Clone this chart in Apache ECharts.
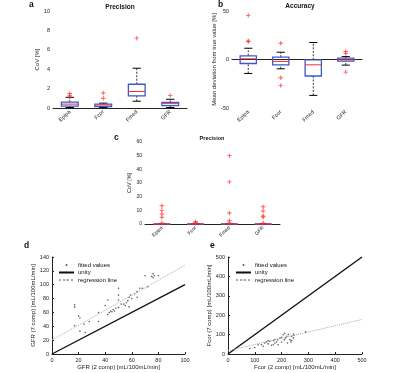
<!DOCTYPE html>
<html>
<head>
<meta charset="utf-8">
<script src="https://cdn.jsdelivr.net/npm/echarts@6/dist/echarts.min.js"></script>
<style>
  html, body { margin: 0; padding: 0; background: #fff; }
  #chart { width: 400px; height: 373px; }
</style>
</head>
<body>
<div id="chart"></div>
<script>
const categories = ['Epipa', 'Fcor', 'Fmed', 'GFR'];

// box stats: [low whisker, q1, median, q3, high whisker]
const precisionBox = [
  [0.05, 0.2, 0.4, 0.6, 1.1],
  [0.05, 0.15, 0.3, 0.4, 0.5],
  [0.7, 1.25, 1.7, 2.45, 4.1],
  [0.05, 0.25, 0.45, 0.58, 0.9]
];
const precisionOutliers = [[0, 1.5], [0, 1.3], [0, 1.15], [1, 1.55], [1, 1.0], [2, 7.2], [3, 1.3]];

const accuracyBox = [
  [-14.4, -4.1, 0.7, 3.8, 11.6],
  [-9.6, -5.5, -2, 2.4, 7.5],
  [-37, -17, -5.5, -0.3, 17.5],
  [-5.8, -1.7, -0.3, 1.4, 3]
];
const accuracyOutliers = [[0, 45.5], [0, 19.2], [0, 18.5], [1, 16.8], [1, -18.8], [1, -26.7], [3, 8.2], [3, 6.2], [3, -13]];

const precisionAllBox = [
  [0, 0, 0, 0, 0],
  [0, 0, 0, 0, 0],
  [0, 0, 0, 0, 0],
  [0, 0, 0, 0, 0]
];
const precisionAllOutliers = [
  [0, 13.3], [0, 10], [0, 7.3], [0, 4.9], [0, 0.7],
  [1, 1.7], [1, 1], [1, 0.5],
  [2, 50], [2, 30.8], [2, 8], [2, 2.4], [2, 0.7],
  [3, 12.6], [3, 9.5], [3, 5.8], [3, 5.1], [3, 0.7]
];

// d: GFR 2 comp vs 7 comp
const gfrPoints = [
  [17, 41], [17, 68], [17, 71], [20, 55], [21, 52], [21, 33], [24, 43], [25, 31], [28, 47],
  [35, 47], [35, 60], [40, 70], [42, 57], [42, 78], [43, 60], [44, 62], [45, 61], [46, 64],
  [47, 62], [48, 66], [50, 67], [50, 78], [50, 85], [50, 95], [52, 72], [54, 72], [55, 70],
  [56, 74], [57, 77], [58, 68], [58, 82], [59, 85], [60, 80], [62, 87], [64, 90], [64, 82],
  [66, 95], [68, 95], [70, 113], [72, 97], [75, 112], [76, 116], [76, 110], [77, 113], [80, 113]
];
const gfrUnity = [[0, 0], [100, 100]];
const gfrRegression = [[0, 20], [100, 128]];

// e: Fcor 2 comp vs 7 comp
const fcorPoints = [
  [81, 28], [100, 33], [112, 48], [125, 48], [131, 40], [137, 57], [144, 62], [150, 52],
  [150, 69], [156, 65], [162, 45], [169, 69], [169, 48], [175, 57], [175, 74], [181, 62],
  [185, 74], [187, 48], [194, 83], [200, 62], [200, 86], [206, 100], [210, 74], [212, 107],
  [215, 83], [219, 91], [222, 57], [225, 100], [231, 74], [235, 62], [237, 91], [237, 69],
  [244, 103], [244, 83], [247, 97], [290, 114]
];
const fcorUnity = [[0, 0], [500, 500]];
const fcorRegression = [[0, 17], [500, 178]];

const FONT = 'Liberation Sans';
const plusIcon = 'path://M4,0H6V4H10V6H6V10H4V6H0V4H4Z';

function renderBox(params, api) {
  const i = api.value(0);
  const bw = api.size([1, 0])[0] * 0.5;
  const p = [1, 2, 3, 4, 5].map(d => api.coord([i, api.value(d)]));
  const x = p[0][0];
  const dash = { stroke: '#000', lineWidth: 0.8, lineDash: [2, 1.5] };
  const solid = { stroke: '#000', lineWidth: 1 };
  return {
    type: 'group',
    children: [
      { type: 'line', shape: { x1: x, y1: p[0][1], x2: x, y2: p[1][1] }, style: dash },
      { type: 'line', shape: { x1: x, y1: p[3][1], x2: x, y2: p[4][1] }, style: dash },
      { type: 'line', shape: { x1: x - bw / 4, y1: p[0][1], x2: x + bw / 4, y2: p[0][1] }, style: solid },
      { type: 'line', shape: { x1: x - bw / 4, y1: p[4][1], x2: x + bw / 4, y2: p[4][1] }, style: solid },
      { type: 'rect', shape: { x: x - bw / 2, y: p[3][1], width: bw, height: p[1][1] - p[3][1] },
        style: { fill: 'none', stroke: '#3d5ac8', lineWidth: 1.3 } },
      { type: 'line', shape: { x1: x - bw / 2, y1: p[2][1], x2: x + bw / 2, y2: p[2][1] },
        style: { stroke: '#f03040', lineWidth: 1 } }
    ]
  };
}

const axisCommon = {
  axisLine: { lineStyle: { color: '#222', width: 1 } },
  axisTick: { inside: true, length: 2, lineStyle: { color: '#222' } },
  axisLabel: { fontSize: 5.5, color: '#222', fontFamily: FONT, margin: 3 },
  splitLine: { show: false },
  nameTextStyle: { fontSize: 6, color: '#222', fontFamily: FONT },
  nameLocation: 'middle'
};

function catAxis(gi, fs) {
  return Object.assign({}, axisCommon, {
    gridIndex: gi, type: 'category', data: categories,
    axisTick: { inside: true, length: 2, alignWithLabel: true, lineStyle: { color: '#222' } },
    axisLabel: { fontSize: fs, color: '#222', fontFamily: FONT, rotate: 45, margin: 3 }
  });
}
function valAxis(gi, min, max, interval, name, gap, extra) {
  return Object.assign({}, axisCommon, {
    gridIndex: gi, type: 'value', min: min, max: max, interval: interval,
    name: name, nameGap: gap
  }, extra || {});
}

function boxSeries(gi, stats) {
  return {
    type: 'custom', xAxisIndex: gi, yAxisIndex: gi,
    renderItem: renderBox,
    encode: { x: 0, y: [1, 2, 3, 4, 5] },
    data: stats.map((b, i) => [i].concat(b)),
    silent: true
  };
}
function outlierSeries(gi, pts) {
  return {
    type: 'scatter', xAxisIndex: gi, yAxisIndex: gi,
    symbol: plusIcon, symbolSize: 4.5,
    itemStyle: { color: '#ff2a2a' },
    data: pts, silent: true, z: 5
  };
}
function fitSeries(gi, pts, unity, reg) {
  return [
    { name: 'fitted values', type: 'scatter', xAxisIndex: gi, yAxisIndex: gi,
      symbolSize: 1.6, itemStyle: { color: '#333' }, data: pts },
    { name: 'unity', type: 'line', xAxisIndex: gi, yAxisIndex: gi, symbol: 'none',
      itemStyle: { color: '#111' },
      lineStyle: { color: '#111', width: 1.4 }, data: unity },
    { name: 'regression line', type: 'line', xAxisIndex: gi, yAxisIndex: gi, symbol: 'none',
      itemStyle: { color: '#aaa' },
      lineStyle: { color: '#aaa', width: 1, type: 'dotted' }, data: reg }
  ];
}

const chart = echarts.init(document.getElementById('chart'), null, { renderer: 'canvas' });

const titleStyle = { fontSize: 6.5, fontWeight: 'bold', color: '#111', fontFamily: FONT };
const letterStyle = { fontSize: 8.5, fontWeight: 'bold', color: '#111', fontFamily: FONT };

chart.setOption({
  animation: false,
  backgroundColor: '#fff',
  title: [
    { text: 'a', left: 29, top: 0, padding: 0, textStyle: letterStyle },
    { text: 'b', left: 218, top: 0, padding: 0, textStyle: letterStyle },
    { text: 'c', left: 114, top: 133, padding: 0, textStyle: letterStyle },
    { text: 'd', left: 24, top: 241, padding: 0, textStyle: letterStyle },
    { text: 'e', left: 210, top: 241, padding: 0, textStyle: letterStyle },
    { text: 'Precision', left: 120, textAlign: 'center', top: 4, padding: 0, textStyle: titleStyle },
    { text: 'Accuracy', left: 300, textAlign: 'center', top: 3, padding: 0, textStyle: titleStyle },
    { text: 'Precision', left: 212, textAlign: 'center', top: 135, padding: 0,
      textStyle: Object.assign({}, titleStyle, { fontSize: 5.5 }) }
  ],
  grid: [
    { left: 53, top: 11, width: 134, height: 97, outerBoundsMode: 'none' },
    { left: 232, top: 11, width: 130, height: 97, outerBoundsMode: 'none' },
    { left: 145, top: 142, width: 135, height: 82, outerBoundsMode: 'none' },
    { left: 52, top: 257, width: 133, height: 97, outerBoundsMode: 'none' },
    { left: 228, top: 257, width: 134, height: 97, outerBoundsMode: 'none' }
  ],
  legend: [0, 1].map(k => ({
    orient: 'vertical',
    left: k === 0 ? 58 : 235,
    top: 262,
    padding: 0,
    itemWidth: 15,
    itemHeight: 2,
    itemGap: 1.5,
    selectedMode: false,
    data: ['fitted values', 'unity', 'regression line'],
    textStyle: { fontSize: 6, color: '#111', fontFamily: FONT, padding: [0, 0, 0, -1] }
  })),
  xAxis: [
    catAxis(0, 5.5),
    catAxis(1, 5.5),
    catAxis(2, 5),
    valAxis(3, 0, 100, 20, 'GFR (2 comp) [mL/100mL/min]', 8),
    valAxis(4, 0, 500, 100, 'Fcor (2 comp) [mL/100mL/min]', 8)
  ],
  yAxis: [
    valAxis(0, 0, 10, 2, 'CoV [%]', 12),
    valAxis(1, -50, 50, 50, 'Mean deviation from true value [%]', 11),
    valAxis(2, 0, 60, 10, 'CoV [%]', 9, {
      axisLabel: { fontSize: 5, color: '#222', fontFamily: FONT, margin: 3 },
      nameTextStyle: { fontSize: 5.5, color: '#222', fontFamily: FONT }
    }),
    valAxis(3, 0, 140, 20, 'GFR (7 comp) [mL/100mL/min]', 12),
    valAxis(4, 0, 500, 100, 'Fcor (7 comp) [mL/100mL/min]', 12)
  ],
  series: [
    boxSeries(0, precisionBox),
    outlierSeries(0, precisionOutliers),
    boxSeries(1, accuracyBox),
    outlierSeries(1, accuracyOutliers),
    boxSeries(2, precisionAllBox),
    outlierSeries(2, precisionAllOutliers)
  ].concat(
    fitSeries(3, gfrPoints, gfrUnity, gfrRegression),
    fitSeries(4, fcorPoints, fcorUnity, fcorRegression)
  )
});
</script>
</body>
</html>
